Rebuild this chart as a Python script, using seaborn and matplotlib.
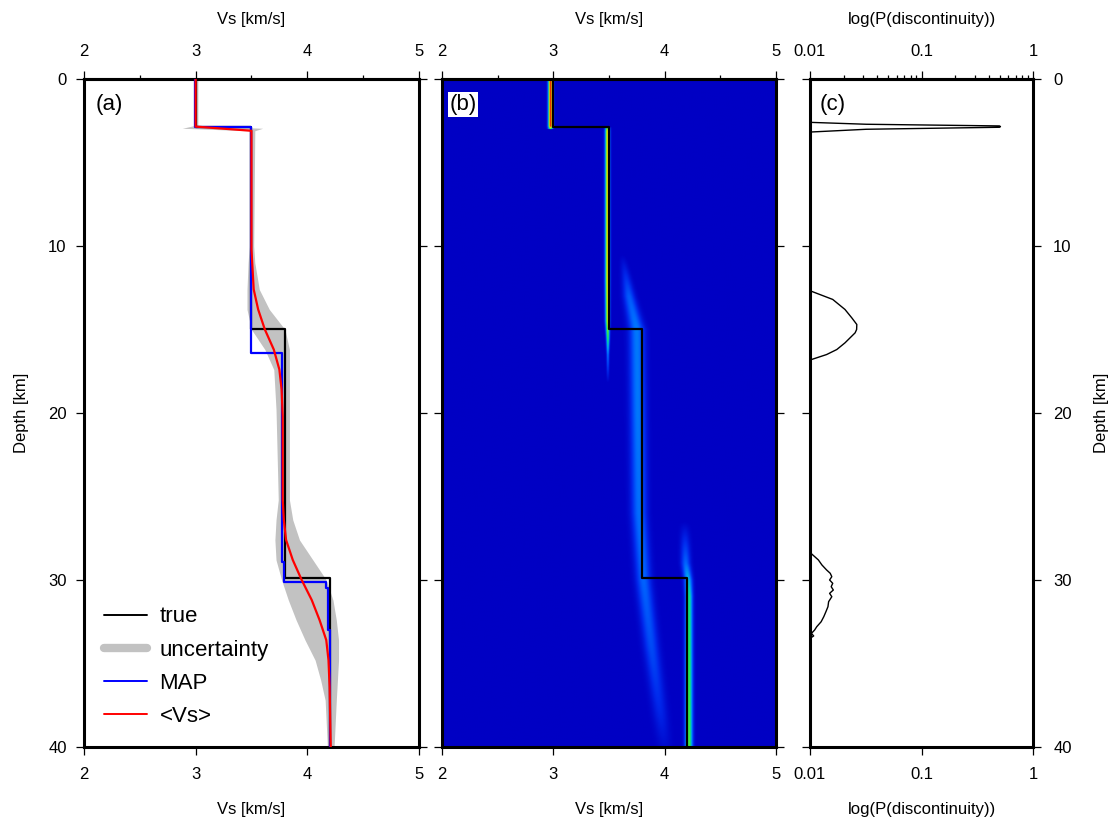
import numpy as np
import matplotlib
matplotlib.use("Agg")
import matplotlib.pyplot as plt
import seaborn as sns
from matplotlib.colors import LinearSegmentedColormap
from matplotlib.lines import Line2D
from matplotlib.ticker import MultipleLocator, FixedLocator, FixedFormatter, LogLocator, NullFormatter

sns.set_theme(style="white")
plt.rcParams['font.family'] = ['Liberation Sans', 'DejaVu Sans']
plt.rcParams.update({'text.color': 'black', 'axes.labelcolor': 'black',
                     'xtick.color': 'black', 'ytick.color': 'black'})

# ---------------- data ----------------
vs_ticks = [2, 3, 4, 5]
depth_ticks = [0, 10, 20, 30, 40]
p_ticks = [0.01, 0.1, 1]
p_tick_labels = ["0.01", "0.1", "1"]

true_bounds = [0.0, 2.9, 15.0, 29.9, 40.0]
true_vs = [3.0, 3.5, 3.8, 4.2]

map_bounds = [0.0, 2.85, 16.4, 28.9, 30.1, 30.5, 33.0, 40.0]
map_vs = [2.99, 3.50, 3.77, 3.79, 4.17, 4.19, 4.20]

mean_depth = [0.0, 2.85, 3.1, 10.2, 11.4, 12.6, 13.8, 15.0, 16.2, 17.4, 18.6, 20.2,
              25.2, 26.4, 27.6, 28.8, 30.0, 31.2, 32.4, 33.6, 34.8, 36.4, 40.0]
mean_vs = [3.0, 3.0, 3.5, 3.50, 3.51, 3.52, 3.56, 3.62, 3.70, 3.75, 3.77, 3.78,
           3.78, 3.79, 3.81, 3.87, 3.95, 4.04, 4.11, 4.17, 4.19, 4.20, 4.21]

unc_depth = [0.0, 2.8, 2.95, 3.1, 10.0, 11.0, 12.6, 13.8, 15.0, 16.2, 17.4, 19.8,
             25.2, 26.4, 27.6, 28.8, 30.0, 31.2, 32.4, 33.6, 34.8, 36.0, 37.2, 40.0]
unc_lo = [2.98, 2.98, 2.88, 3.48, 3.48, 3.47, 3.46, 3.46, 3.50, 3.62, 3.70, 3.72,
          3.74, 3.72, 3.71, 3.72, 3.77, 3.83, 3.90, 3.98, 4.07, 4.12, 4.16, 4.18]
unc_hi = [3.02, 3.02, 3.60, 3.53, 3.52, 3.53, 3.57, 3.66, 3.80, 3.84, 3.84, 3.84,
          3.84, 3.87, 3.93, 4.05, 4.17, 4.23, 4.26, 4.28, 4.28, 4.27, 4.26, 4.24]

disc_depth = [0.0, 2.5, 2.60, 2.71, 2.81, 2.85, 2.89, 3.01, 3.17, 3.3,
              12.5, 12.7, 13.2, 13.8, 14.3, 14.7, 15.0, 15.2, 15.8, 16.2, 16.5, 16.8, 16.95, 17.1,
              28.2, 28.4, 28.8, 29.1, 29.4, 29.6, 29.8, 30.0, 30.2, 30.4, 30.6, 30.8, 31.0,
              31.3, 31.6, 31.9, 32.2, 32.5, 32.8, 33.0, 33.2, 33.35, 33.5, 40.0]
disc_p = [0.005, 0.005, 0.0105, 0.032, 0.50, 0.51, 0.50, 0.032, 0.0105, 0.005,
          0.005, 0.0102, 0.016, 0.0206, 0.0237, 0.0263, 0.0262, 0.0254, 0.0206, 0.0174, 0.0141, 0.0103, 0.0100, 0.005,
          0.005, 0.0102, 0.0119, 0.0128, 0.0141, 0.0152, 0.0157, 0.0150, 0.0160, 0.0155, 0.0162, 0.0150, 0.0157,
          0.0147, 0.0145, 0.0139, 0.0133, 0.0126, 0.0115, 0.0110, 0.0103, 0.0108, 0.0100, 0.005]

# posterior density ridges (depth knots, centre Vs, width, relative amplitude)
r1_depth = [0.0, 2.8, 2.95]
r1_vs = [2.975, 2.975, 2.975]
r1_w = [0.014, 0.014, 0.014]
r1_amp = [1.0, 1.0, 0.6]

r2_depth = [2.9, 3.1, 12.0, 14.5, 15.5, 16.5, 18.2]
r2_vs = [3.486, 3.486, 3.486, 3.487, 3.49, 3.49, 3.49]
r2_w = [0.014, 0.014, 0.014, 0.013, 0.010, 0.008, 0.008]
r2_amp = [0.6, 0.78, 0.78, 0.72, 0.55, 0.25, 0.0]

r3_depth = [10.5, 13.0, 15.0, 20.0, 26.0, 30.0, 34.0, 38.0, 40.0]
r3_vs = [3.62, 3.68, 3.75, 3.76, 3.77, 3.81, 3.88, 3.96, 4.00]
r3_w = [0.02, 0.035, 0.045, 0.045, 0.045, 0.045, 0.045, 0.045, 0.045]
r3_amp = [0.0, 0.2, 0.26, 0.26, 0.24, 0.22, 0.17, 0.09, 0.03]

r4_depth = [26.5, 29.0, 30.0, 31.0, 35.0, 40.0]
r4_vs = [4.18, 4.19, 4.212, 4.218, 4.218, 4.218]
r4_w = [0.03, 0.028, 0.024, 0.022, 0.022, 0.022]
r4_amp = [0.0, 0.22, 0.38, 0.5, 0.56, 0.6]

ridges = [(r1_depth, r1_vs, r1_w, r1_amp), (r2_depth, r2_vs, r2_w, r2_amp),
          (r3_depth, r3_vs, r3_w, r3_amp), (r4_depth, r4_vs, r4_w, r4_amp)]

# ---------------- helpers ----------------
def step_xy(bounds, vals):
    xs, ys = [], []
    for i, v in enumerate(vals):
        xs += [v, v]
        ys += [bounds[i], bounds[i + 1]]
    return xs, ys

def style_axis(ax, labelleft=False, labelright=False):
    for s in ax.spines.values():
        s.set_linewidth(2.2)
        s.set_color('black')
    ax.tick_params(axis='both', which='major', direction='out', length=5.5, width=0.9,
                   colors='black', labelsize=12)
    ax.tick_params(axis='both', which='minor', direction='out', length=3, width=0.9, colors='black')
    ax.tick_params(axis='x', bottom=True, top=False, labelbottom=True, pad=9)
    ax.tick_params(axis='y', left=True, right=True, labelleft=labelleft, labelright=labelright,
                   pad=7 if labelleft else 9)

fig = plt.figure(figsize=(11.08, 8.17), dpi=100)
fig.patch.set_facecolor('white')
bottom, height = 0.0857, 0.8176
axA = fig.add_axes([0.0758, bottom, 0.3023, height])
axB = fig.add_axes([0.3989, bottom, 0.3014, height])
axC = fig.add_axes([0.7310, bottom, 0.2014, height])

tx, ty = step_xy(true_bounds, true_vs)
mx, my = step_xy(map_bounds, map_vs)

# ---------------- panel (a) ----------------
axA.set_facecolor('white')
axA.fill_betweenx(unc_depth, unc_lo, unc_hi, color='#c2c2c2', lw=0, zorder=1)
sns.lineplot(x=tx, y=ty, sort=False, estimator=None, color='black', lw=1.6, ax=axA, zorder=3)
sns.lineplot(x=mx, y=my, sort=False, estimator=None, color='#0000ff', lw=1.6, ax=axA, zorder=4)
sns.lineplot(x=mean_vs, y=mean_depth, sort=False, estimator=None, color='#ff0000', lw=1.6, ax=axA, zorder=5)

# ---------------- panel (b) ----------------
zg = np.linspace(0, 40, 801)
vg = np.linspace(2, 5, 1501)
dens = np.zeros((zg.size, vg.size))
for rd, rv, rw, ra in ridges:
    c = np.interp(zg, rd, rv)
    w = np.interp(zg, rd, rw)
    a = np.interp(zg, rd, ra, left=0.0, right=0.0)
    dens += a[:, None] * np.exp(-0.5 * ((vg[None, :] - c[:, None]) / w[:, None]) ** 2)
dens = np.clip(dens, 0, 1)

cmap = LinearSegmentedColormap.from_list('post', [
    (0.0, '#0000c4'), (0.10, '#0028ec'), (0.22, '#0064ff'), (0.35, '#00a8f0'),
    (0.45, '#00d8a0'), (0.55, '#20ec50'), (0.65, '#90f020'), (0.75, '#f0f000'),
    (0.85, '#ffb000'), (0.93, '#ff6000'), (1.0, '#e01000')])
axB.imshow(dens, extent=[2, 5, 40, 0], origin='upper', aspect='auto', cmap=cmap,
           vmin=0, vmax=1, interpolation='bilinear', zorder=0)
sns.lineplot(x=tx, y=ty, sort=False, estimator=None, color='black', lw=1.6, ax=axB, zorder=3)

# ---------------- panel (c) ----------------
sns.lineplot(x=disc_p, y=disc_depth, sort=False, estimator=None, color='black', lw=1.0, ax=axC, zorder=3)
axC.set_xscale('log')

# ---------------- axes styling ----------------
for ax in (axA, axB):
    ax.set_xlim(2, 5)
    ax.xaxis.set_major_locator(FixedLocator(vs_ticks))
    ax.xaxis.set_major_formatter(FixedFormatter([str(t) for t in vs_ticks]))
    ax.xaxis.set_minor_locator(MultipleLocator(0.5))
axC.set_xlim(0.01, 1)
axC.xaxis.set_major_locator(FixedLocator(p_ticks))
axC.xaxis.set_major_formatter(FixedFormatter(p_tick_labels))
axC.xaxis.set_minor_locator(LogLocator(base=10, subs=np.arange(2, 10)))
axC.xaxis.set_minor_formatter(NullFormatter())

for ax in (axA, axB, axC):
    ax.set_ylim(40, 0)
    ax.yaxis.set_major_locator(FixedLocator(depth_ticks))
    ax.yaxis.set_major_formatter(FixedFormatter([str(t) for t in depth_ticks]))
    ax.yaxis.set_minor_locator(MultipleLocator(5))
    ax.set_ylabel('')

style_axis(axA, labelleft=True)
style_axis(axB)
style_axis(axC, labelright=True)

axA.set_ylabel('Depth [km]', fontsize=12, labelpad=14)
axC.yaxis.set_label_position('right')
axC.set_ylabel('Depth [km]', fontsize=12, labelpad=16, rotation=90)

for ax, lab in ((axA, 'Vs [km/s]'), (axB, 'Vs [km/s]'), (axC, 'log(P(discontinuity))')):
    ax.set_xlabel(lab, fontsize=12, labelpad=14)
    sec = ax.secondary_xaxis('top')
    if ax is axC:
        sec.xaxis.set_major_locator(FixedLocator(p_ticks))
        sec.xaxis.set_major_formatter(FixedFormatter(p_tick_labels))
        sec.xaxis.set_minor_locator(LogLocator(base=10, subs=np.arange(2, 10)))
        sec.xaxis.set_minor_formatter(NullFormatter())
    else:
        sec.xaxis.set_major_locator(FixedLocator(vs_ticks))
        sec.xaxis.set_major_formatter(FixedFormatter([str(t) for t in vs_ticks]))
        sec.xaxis.set_minor_locator(MultipleLocator(0.5))
    sec.tick_params(axis='x', which='major', direction='out', length=5.5, width=0.9,
                    labelsize=12, pad=9, colors='black')
    sec.tick_params(axis='x', which='minor', direction='out', length=3, width=0.9, colors='black')
    sec.spines['top'].set_linewidth(2.2)
    sec.set_xlabel(lab, fontsize=12, labelpad=14)

# panel letters
axA.text(0.035, 0.962, '(a)', transform=axA.transAxes, fontsize=16, va='center', ha='left')
axB.text(0.022, 0.962, '(b)', transform=axB.transAxes, fontsize=16, va='center', ha='left',
         bbox=dict(boxstyle='square,pad=0.08', fc='white', ec='none'))
axC.text(0.045, 0.962, '(c)', transform=axC.transAxes, fontsize=16, va='center', ha='left')

# legend
handles = [Line2D([], [], color='black', lw=1.4),
           Line2D([], [], color='#c2c2c2', lw=6),
           Line2D([], [], color='#0000ff', lw=1.4),
           Line2D([], [], color='#ff0000', lw=1.4)]
labels = ['true', 'uncertainty', 'MAP', '<Vs>']
axA.legend(handles, labels, loc='lower left', bbox_to_anchor=(0.0, 0.0), frameon=False,
           fontsize=16, handlelength=1.95, handletextpad=0.55, labelspacing=0.55,
           borderaxespad=0.3, borderpad=0.6)

fig.savefig('out.png', dpi=100, facecolor='white')
